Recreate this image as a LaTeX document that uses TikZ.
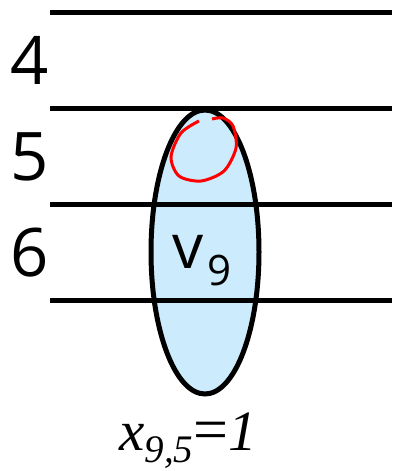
\documentclass[tikz,border=0pt]{standalone}
\usepackage{fontspec}
\setmainfont{Liberation Serif}
\newfontfamily\labelfont{Open Sans}
\usetikzlibrary{
    shapes.geometric
}
\definecolor{vertexblue}{HTML}{CCEBFC}
\tikzset{
    level line/.style={
        line width=5pt
    },
    level label/.style={
        font=\labelfont\fontsize{67}{67}\selectfont,
        inner sep=0pt
    },
    vertex/.style={
        ellipse,
        draw,
        line width=5pt,
        fill=vertexblue,
        minimum width=108pt,
        minimum height=284pt,
        inner sep=0pt
    }
}

\begin{document}
\begin{tikzpicture}[
    x=1pt,
    y=-1pt
]
    \useasboundingbox (0,0) rectangle (392,471);

    % Vertice
    \node[vertex] (v9) at (205,252) {};
    \draw[red, line width=3pt, smooth]
        plot coordinates {(199,121) (181,133) (171,157) (179,176) (201,181)
                          (224,171) (236,148) (233,126) (223,118) (212,119)};
    \node[anchor=base west, inner sep=0pt] (v9label) at (172,268)
        {\labelfont\fontsize{62}{62}\selectfont v\hspace{4pt}\raisebox{-17pt}{\fontsize{42}{42}\selectfont 9}};

    % Niveles
    \foreach \y in {12,108,204,300}
        \draw[level line] (50,\y) -- (392,\y);
    \node[level label] (l4) at (30,60) {4};
    \node[level label] (l5) at (30,157) {5};
    \node[level label] (l6) at (30,253) {6};

    % Variable
    \node[anchor=base west, inner sep=0pt] (x95) at (119,450)
        {\fontsize{57}{57}\selectfont\itshape x\raisebox{-12pt}{\fontsize{39}{39}\selectfont 9,5}\upshape{\fontsize{62}{62}\selectfont=}\itshape 1};

\end{tikzpicture}
\end{document}
